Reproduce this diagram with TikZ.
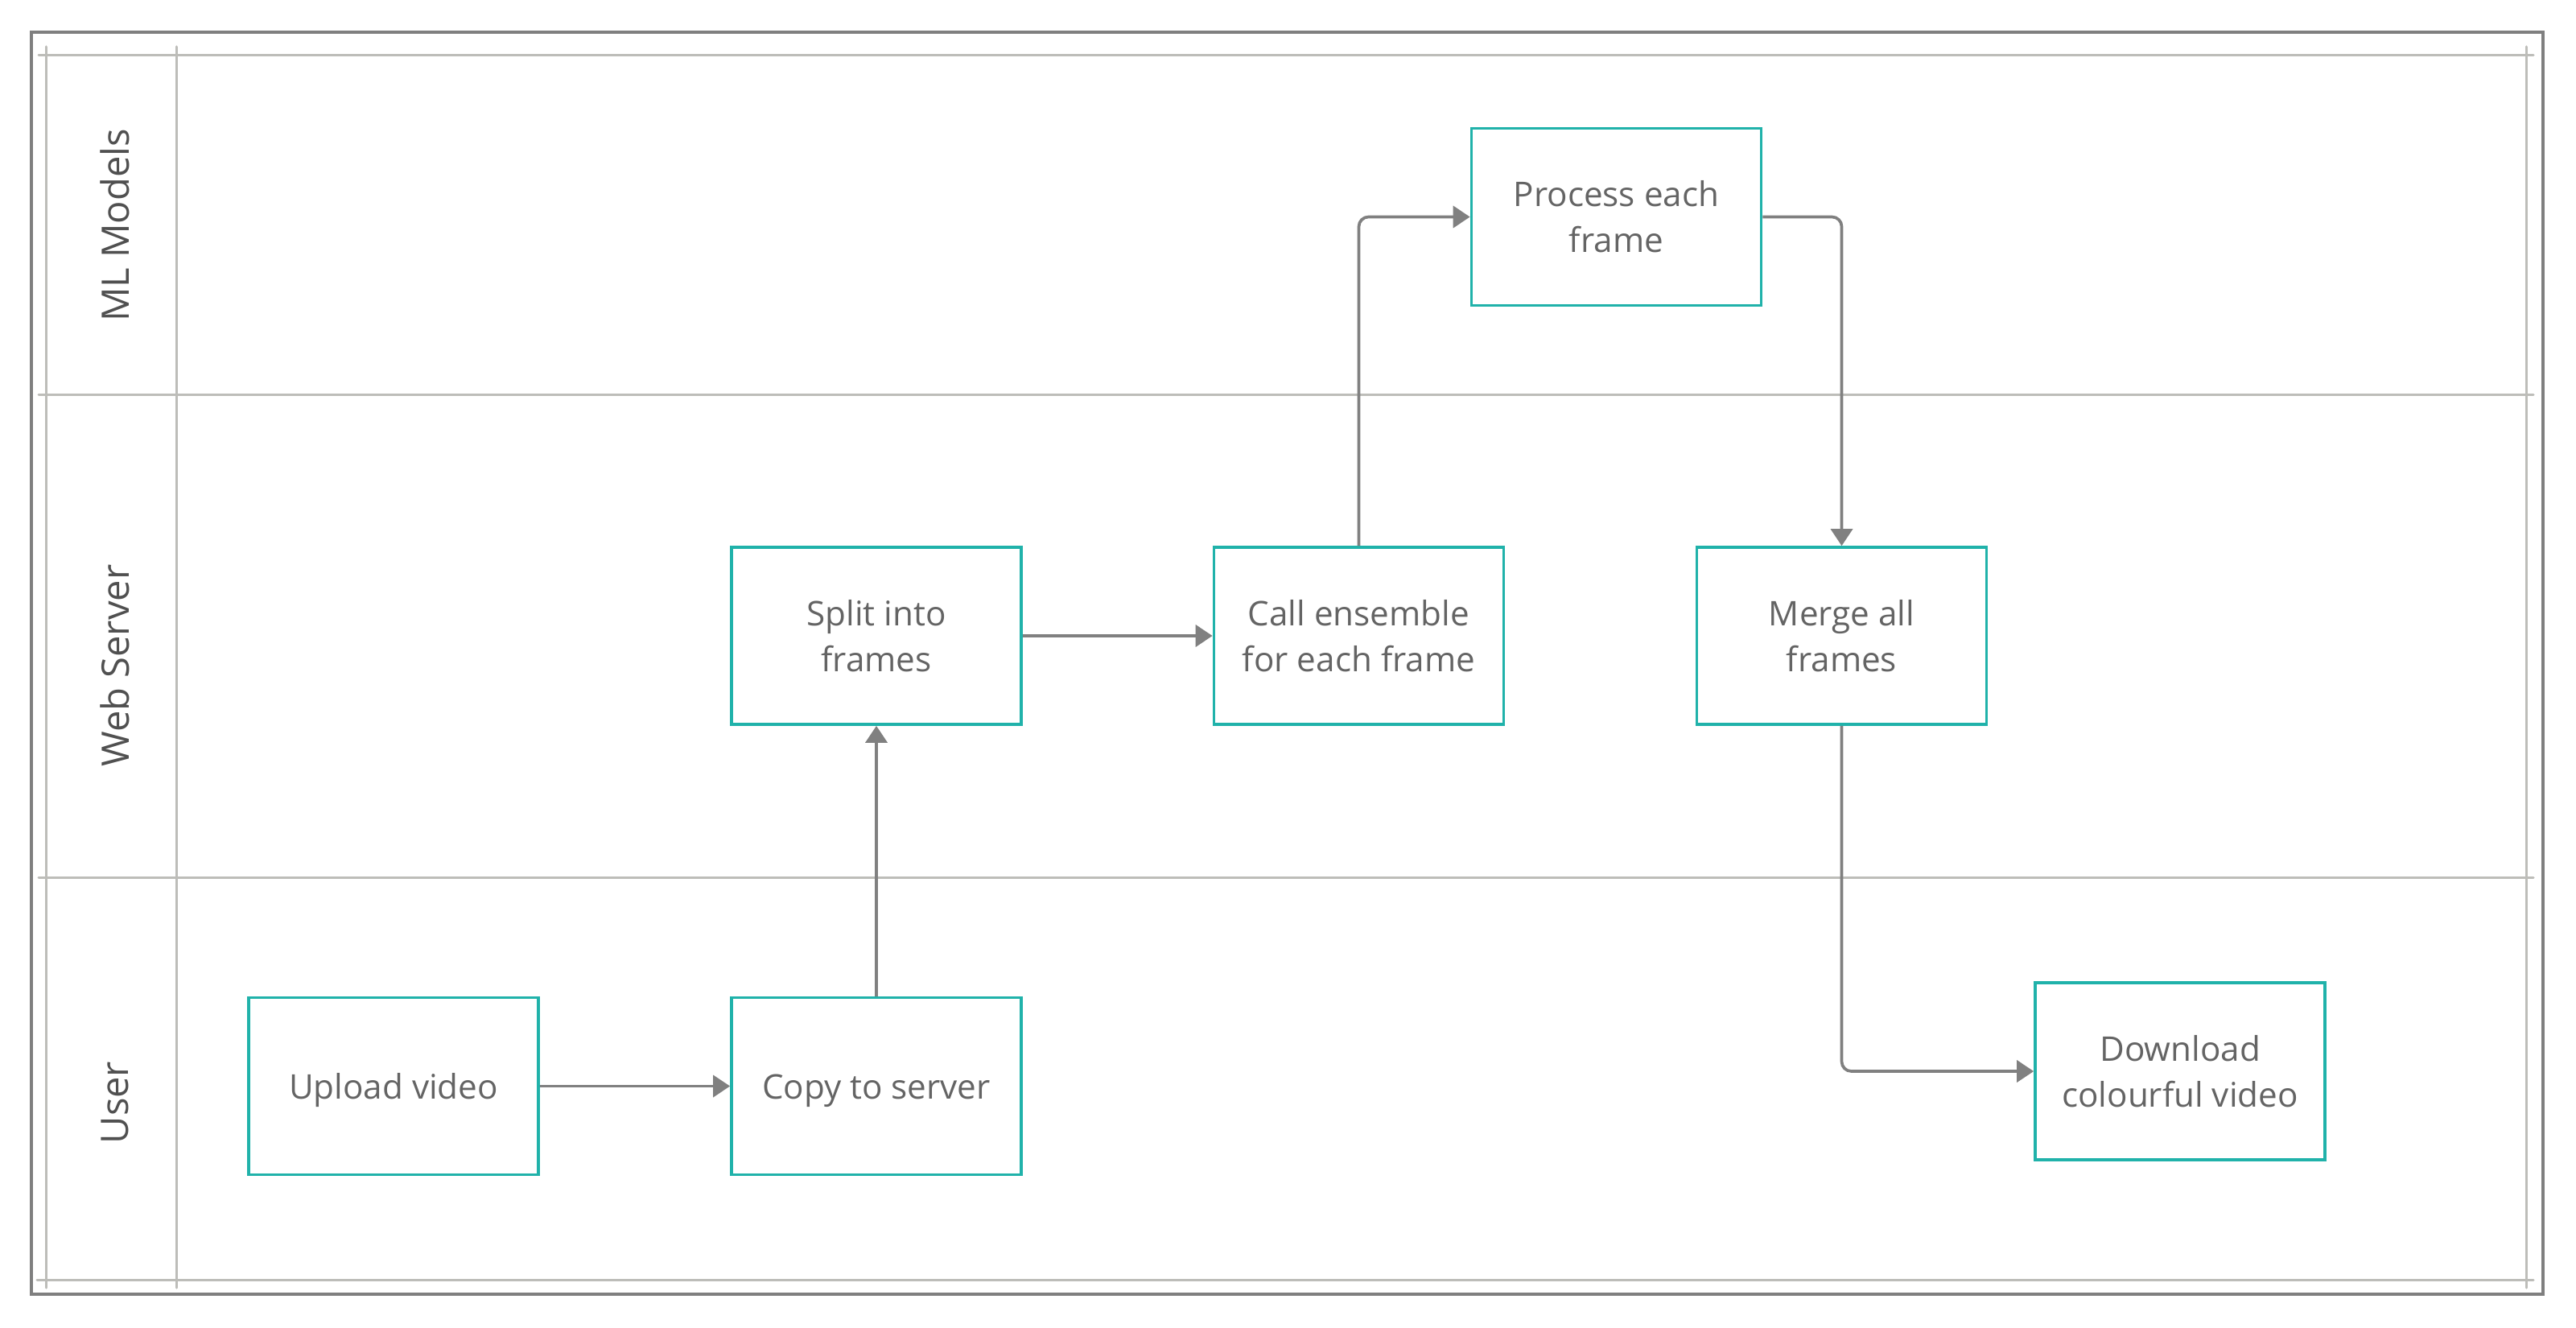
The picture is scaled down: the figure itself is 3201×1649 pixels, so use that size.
\documentclass[tikz,border=0pt]{standalone}
\usepackage{fontspec}
\setmainfont{Open Sans}
\usetikzlibrary{arrows.meta}
\definecolor{framegray}{HTML}{7F7F7F}
\definecolor{lanegray}{HTML}{BDBDB9}
\definecolor{boxteal}{HTML}{20B2AA}
\definecolor{flowgray}{HTML}{808080}
\definecolor{boxtext}{HTML}{646464}
\definecolor{lanetext}{HTML}{505050}
\begin{document}
\begin{tikzpicture}[x=0.01cm,y=-0.01cm,
  stepbox/.style={draw=boxteal, line width=0.035cm, minimum width=3.6cm,
    minimum height=2.2cm, align=center, text=boxtext, inner sep=0pt,
    font=\fontsize{12}{16.2}\selectfont},
  oneline/.style={text height=0.42cm, text depth=0.1cm},
  flowline/.style={draw=flowgray, line width=0.037cm, rounded corners=0.12cm,
    -{Triangle[length=0.21cm,width=0.27cm]}},
  lanelabel/.style={rotate=90, text=lanetext, inner sep=0pt,
    font=\fontsize{13.4}{16}\selectfont},
  laneline/.style={draw=lanegray, line width=0.03cm, line cap=round}]
  \path[use as bounding box] (0,0) rectangle (3201,1649);

  % outer frame
  \draw[framegray, line width=0.035cm] (39,40) rectangle (3160,1608);

  % swimlane grid
  \draw[laneline] (48,69) -- (3148,69);
  \draw[laneline] (48,490) -- (3148,490);
  \draw[laneline] (48,1090) -- (3148,1090);
  \draw[laneline] (46,1590) -- (3148,1590);
  \draw[laneline] (57,58) -- (57,1600);
  \draw[laneline] (219,58) -- (219,1600);
  \draw[laneline] (3139,58) -- (3139,1600);

  % lane titles
  \node[lanelabel] (lml)  at (143,280)  {ML Models};
  \node[lanelabel] (lweb) at (143,827)  {Web Server};
  \node[lanelabel] (lusr) at (143,1370) {User};

  % process steps
  \node[stepbox] (proc)   at (2008.5,269.5) {Process each\\frame};
  \node[stepbox] (split)  at (1089,790)     {Split into\\frames};
  \node[stepbox] (call)   at (1688.5,790)   {Call ensemble\\for each frame};
  \node[stepbox] (merge)  at (2288.5,790)   {Merge all\\frames};
  \node[stepbox,oneline] (upload) at (489,1349.5)  {Upload video};
  \node[stepbox,oneline] (copy)   at (1089,1349.5) {Copy to server};
  \node[stepbox] (down)   at (2709,1331)    {Download\\colourful video};

  % flow
  \draw[flowline] (upload) -- (copy);
  \draw[flowline] (copy) -- (split);
  \draw[flowline] (split) -- (call);
  \draw[flowline] (call.north) |- (proc.west);
  \draw[flowline] (proc.east) -| (merge.north);
  \draw[flowline] (merge.south) |- (down.west);
\end{tikzpicture}
\end{document}
